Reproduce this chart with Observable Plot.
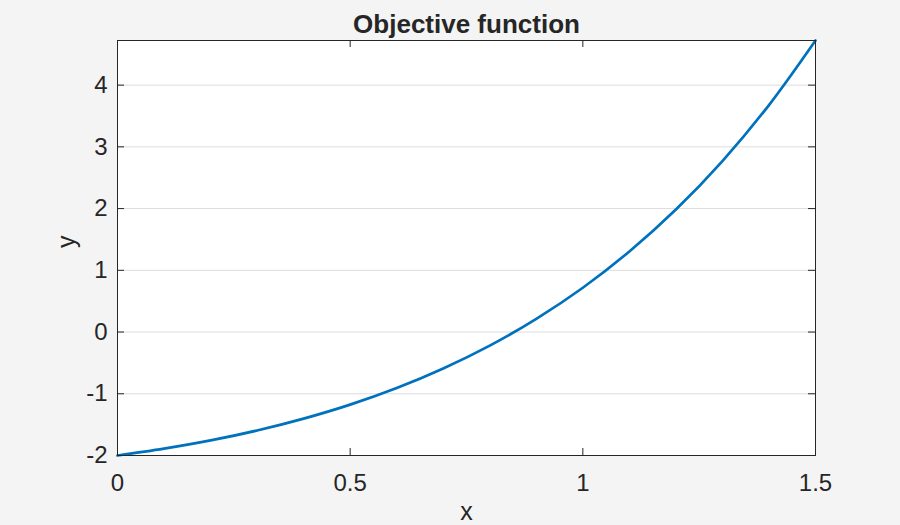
<!DOCTYPE html>
<html>
<head>
<meta charset="utf-8">
<script src="https://cdn.jsdelivr.net/npm/d3@7"></script>
<script src="https://cdn.jsdelivr.net/npm/@observablehq/plot@0.6"></script>
<style>
  html, body { margin: 0; padding: 0; background: #f4f4f4; }
  #chart { width: 900px; height: 525px; }
  svg { font-family: "Liberation Sans", Arial, Helvetica, sans-serif; }
</style>
</head>
<body>
<div id="chart"></div>
<script>
const titleText = "Objective function";
const xLabel = "x";
const yLabel = "y";
const xValues = [0, 0.1, 0.2, 0.3, 0.4, 0.5, 0.6, 0.7, 0.8, 0.9, 1.0, 1.1, 1.2, 1.3, 1.4, 1.5];
const yValues = [-2.000, -1.889, -1.756, -1.595, -1.403, -1.176, -0.907, -0.590, -0.220, 0.214, 0.718, 1.305, 1.984, 2.770, 3.677, 4.723];
const xTicks = [0, 0.5, 1, 1.5];
const yTicks = [-2, -1, 0, 1, 2, 3, 4];

const data = xValues.map((x, i) => ({x, y: yValues[i]}));

const W = 900, H = 525;
const mL = 117, mR = 85, mT = 40, mB = 70;
const iW = W - mL - mR, iH = H - mT - mB;
const ink = "#262626";
const tickLen = 7;

const chart = Plot.plot({
  width: W,
  height: H,
  marginLeft: mL,
  marginRight: mR,
  marginTop: mT,
  marginBottom: mB,
  style: {background: "transparent", color: ink, fontFamily: '"Liberation Sans", Arial, sans-serif'},
  x: {domain: [0, 1.5], label: null},
  y: {domain: [yValues[0], yValues[yValues.length - 1]], label: null},
  marks: [
    Plot.frame({fill: "white", stroke: "none"}),
    Plot.gridY(yTicks, {stroke: "#dcdcdc", strokeOpacity: 1, strokeWidth: 1}),
    Plot.line(data, {x: "x", y: "y", stroke: "#0072bd", strokeWidth: 2.7, curve: "catmull-rom"}),
    Plot.frame({stroke: ink, strokeWidth: 1}),
    // inward ticks, left & right
    Plot.tickY(yTicks, {y: d => d, stroke: ink, insetRight: iW - tickLen}),
    Plot.tickY(yTicks, {y: d => d, stroke: ink, insetLeft: iW - tickLen}),
    // inward ticks, bottom & top
    Plot.tickX(xTicks, {x: d => d, stroke: ink, insetTop: iH - tickLen}),
    Plot.tickX(xTicks, {x: d => d, stroke: ink, insetBottom: iH - tickLen}),
    Plot.axisX({ticks: xTicks, tickSize: 0, tickPadding: 18, fontSize: 24, tickFormat: d => String(d), label: null, fill: ink}),
    Plot.axisY({ticks: yTicks, tickSize: 0, tickPadding: 10, fontSize: 24, tickFormat: d => String(d), label: null, fill: ink}),
    Plot.text([titleText], {text: d => d, frameAnchor: "top", lineAnchor: "bottom", dy: -8, fontSize: 26, fontWeight: "bold", fill: ink}),
    Plot.text([xLabel], {text: d => d, frameAnchor: "bottom", lineAnchor: "bottom", dy: 64, fontSize: 25, fill: ink}),
    Plot.text([yLabel], {text: d => d, frameAnchor: "left", lineAnchor: "bottom", rotate: -90, dx: -43, fontSize: 25, fill: ink})
  ]
});
document.getElementById("chart").appendChild(chart);
</script>
</body>
</html>
